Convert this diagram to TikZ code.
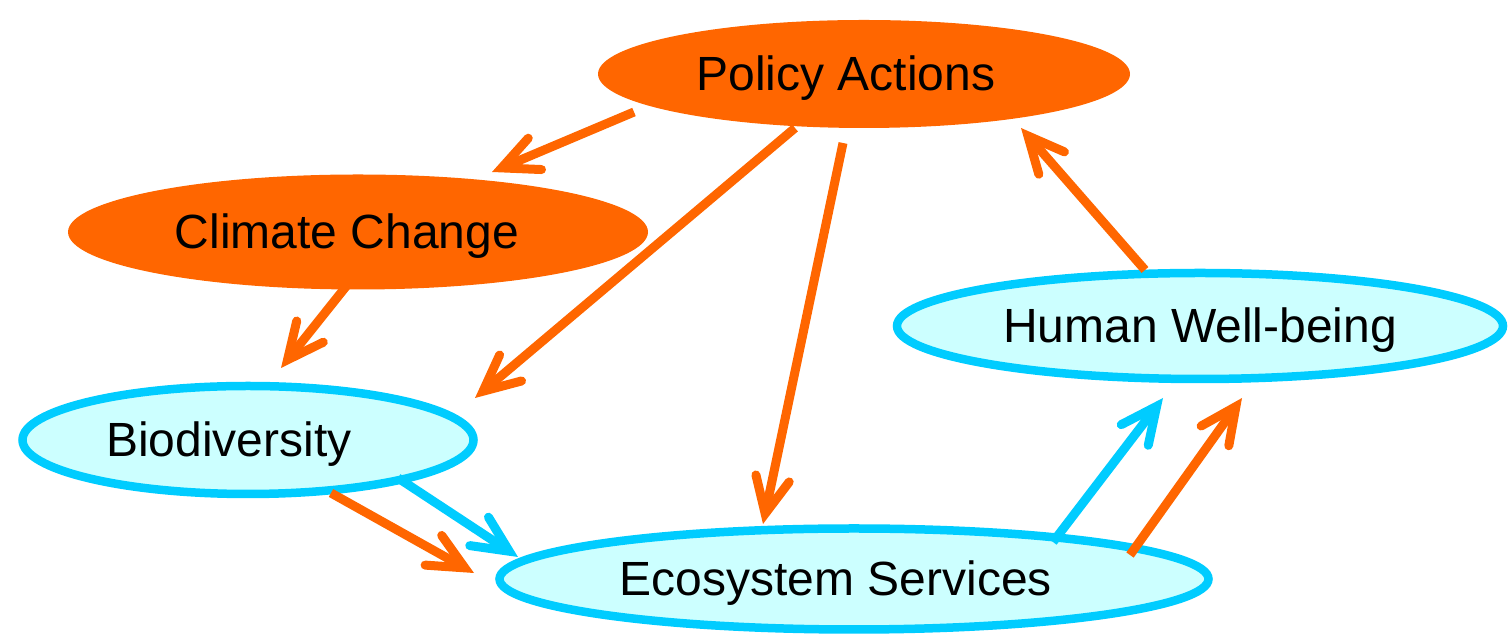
\documentclass[tikz,border=0pt]{standalone}
\usepackage{fontspec}
\setmainfont{Liberation Sans}
\usetikzlibrary{shapes.geometric,arrows.meta}

\definecolor{actorange}{HTML}{FF6600}
\definecolor{sysblue}{HTML}{00CCFF}
\definecolor{sysfill}{HTML}{CCFFFF}

\begin{document}
\begin{tikzpicture}[x=1pt,y=1pt,
    driver_node/.style={ellipse,fill=actorange,inner sep=0pt},
    system_node/.style={ellipse,draw=sysblue,line width=8.5pt,fill=sysfill,inner sep=0pt},
    every label/.style={font=\fontsize{48}{56}\selectfont,inner sep=0pt,yshift=-4pt},
    link/.style={draw=actorange,line width=9pt,-{Straight Barb[length=36pt,width=34pt,line cap=round]}},
    blue_link/.style={link,draw=sysblue}]

    \useasboundingbox (0,0) rectangle (1510,636);

    \node[driver_node, minimum width=532pt, minimum height=108pt, label={[xshift=-18pt]center:Policy Actions}] (policy) at (864,562) {};
    \node[driver_node, minimum width=580pt, minimum height=115pt, label={[xshift=-11pt]center:Climate Change}] (climate) at (358,404) {};
    \node[system_node, minimum width=606pt, minimum height=106pt, label=center:Human Well-being] (human) at (1200,310) {};
    \node[system_node, minimum width=451pt, minimum height=108pt, label={[xshift=-19pt]center:Biodiversity}] (bio) at (248,196) {};
    \node[system_node, minimum width=709pt, minimum height=101pt, label={[xshift=-18pt]center:Ecosystem Services}] (eco) at (854,57) {};

    % drivers
    \draw[link] ([shift={(-230,-38)}]policy.center) -- ([shift={(134,60)}]climate.center);
    \draw[link] ([shift={(-69,-54)}]policy.center) -- ([shift={(227,42)}]bio.center);
    \draw[link] ([shift={(-21,-69)}]policy.center) -- ([shift={(-91,55)}]eco.center);
    \draw[link] ([shift={(-10,-52)}]climate.center) -- ([shift={(33,72)}]bio.center);

    % feedback
    \draw[link] ([shift={(-55,56)}]human.center) -- ([shift={(157,-54)}]policy.center);

    % services
    \draw[link] ([shift={(83,-53)}]bio.center) -- ([shift={(-380,6)}]eco.center);
    \draw[blue_link] ([shift={(150,-38)}]bio.center) -- ([shift={(-336,22)}]eco.center);
    \draw[blue_link] ([shift={(199,37)}]eco.center) -- ([shift={(-37,-72)}]human.center);
    \draw[link] ([shift={(276,24)}]eco.center) -- ([shift={(42,-72)}]human.center);
\end{tikzpicture}
\end{document}
